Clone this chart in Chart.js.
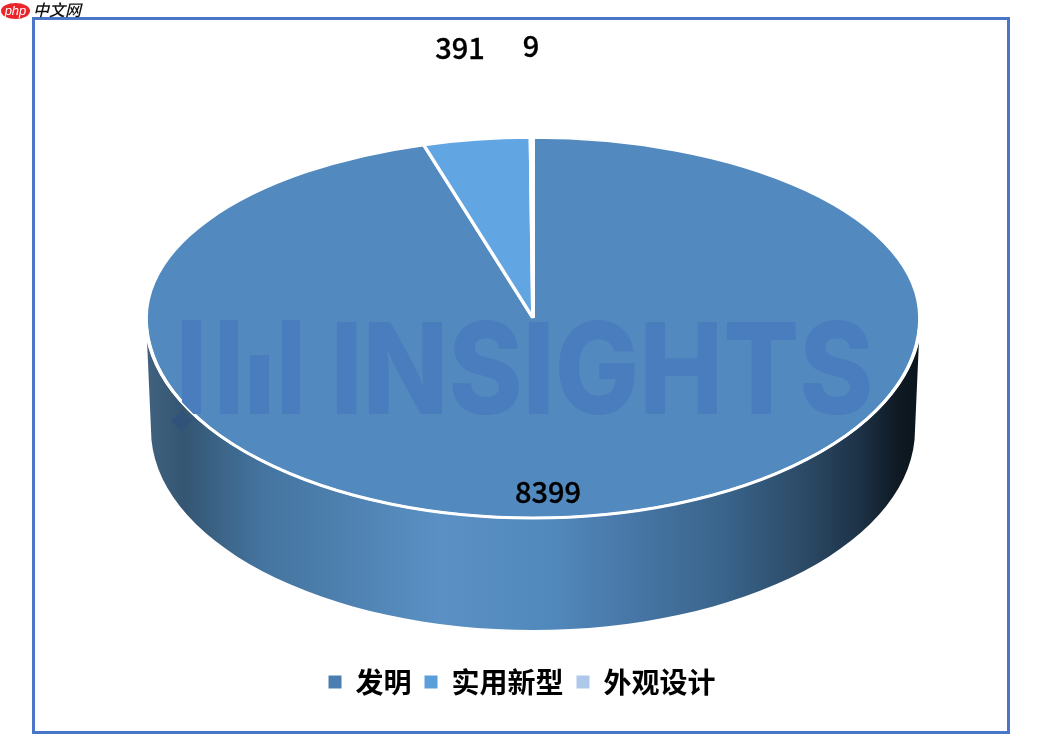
<!DOCTYPE html>
<html>
<head>
<meta charset="utf-8">
<style>
  html, body { margin: 0; padding: 0; background: #fff; }
  #wrap { position: relative; width: 1038px; height: 752px; overflow: hidden; }
  #frame { position: absolute; left: 32px; top: 17px; width: 972px; height: 711px; border: 3px solid #4a76c8; }
  #logo { position: absolute; left: 1px; top: 3px; width: 29px; height: 16px; border-radius: 50%; background: #e8262c;
          color: #fff; font: italic 13px/15px "Liberation Sans", sans-serif; text-align: center; }
  #logotext { position: absolute; left: 33px; top: 0; font: italic 500 16px/19px "Noto Sans CJK SC", sans-serif; color: #111; }
  canvas { position: absolute; left: 0; top: 0; }
</style>
</head>
<body>
<div id="wrap">
  <canvas id="myChart" width="1038" height="752"></canvas>
  <div id="frame"></div>
  <div id="logo">php</div>
  <div id="logotext">中文网</div>
</div>
<script src="https://cdn.jsdelivr.net/npm/chart.js@4"></script>
<script>
const categories = ['发明', '实用新型', '外观设计'];
const patents = [8399, 391, 9];
const sliceColors = ['#5289bf', '#62a5e3', '#a9c5e7'];
const legendColors = ['#4a7eb0', '#5a9fd9', '#adc8e8'];

// the tilted top: apex sits above the middle, so back half is shorter than front half
const ell = { x: 533, y: 318, rx: 387, back: 180, front: 200, depth: 112 };
const labelSpots = [[548, 492], [460, 48], [531, 46]];

function squash(ctx, arc, ry) {
  const r = arc.outerRadius;
  ctx.translate(ell.x, ell.y);
  ctx.scale(ell.rx / r, ry / r);
  ctx.translate(-arc.x, -arc.y);
}

function clipHalf(ctx, top) {
  ctx.beginPath();
  if (top) ctx.rect(0, 0, 1038, ell.y);
  else ctx.rect(0, ell.y, 1038, 752 - ell.y);
  ctx.clip();
}

function topOutline(ctx) {
  ctx.beginPath();
  ctx.ellipse(ell.x, ell.y, ell.rx, ell.front, 0, 0, Math.PI);
  ctx.ellipse(ell.x, ell.y, ell.rx, ell.back, 0, Math.PI, Math.PI * 2);
  ctx.closePath();
}

const pie3d = {
  id: 'pie3d',
  beforeDatasetsDraw(chart) {
    const ctx = chart.ctx;
    // side wall of the cylinder
    const g = ctx.createLinearGradient(ell.x - ell.rx, 0, ell.x + ell.rx, 0);
    g.addColorStop(0, '#41627f');
    g.addColorStop(0.05, '#345672');
    g.addColorStop(0.15, '#44749f');
    g.addColorStop(0.38, '#5a90c4');
    g.addColorStop(0.52, '#5289bd');
    g.addColorStop(0.62, '#4878a8');
    g.addColorStop(0.75, '#39638a');
    g.addColorStop(0.85, '#2c4a66');
    g.addColorStop(0.92, '#1d3348');
    g.addColorStop(0.97, '#0f1a24');
    g.addColorStop(1, '#0a141c');
    ctx.save();
    ctx.beginPath();
    ctx.ellipse(ell.x, ell.y, ell.rx, ell.front, 0, 0, Math.PI);
    ctx.ellipse(ell.x, ell.y + ell.depth, ell.rx - 5, ell.front, 0, Math.PI, 0, true);
    ctx.closePath();
    ctx.fillStyle = g;
    ctx.fill();
    // bit of the watermark that falls on the wall
    ctx.fillStyle = 'rgba(46, 78, 125, 0.6)';
    ctx.beginPath();
    ctx.moveTo(171, 421);
    ctx.lineTo(182, 411);
    ctx.lineTo(192, 421);
    ctx.lineTo(181, 431);
    ctx.closePath();
    ctx.fill();
    ctx.restore();
    // the library draws the back half through this transform
    ctx.save();
    clipHalf(ctx, true);
    squash(ctx, chart.getDatasetMeta(0).data[0], ell.back);
  },
  afterDatasetsDraw(chart) {
    const ctx = chart.ctx;
    const meta = chart.getDatasetMeta(0);
    ctx.restore();
    // and the front half
    ctx.save();
    clipHalf(ctx, false);
    squash(ctx, meta.data[0], ell.front);
    meta.controller.draw();
    ctx.restore();
    // white rim along the front
    ctx.save();
    ctx.strokeStyle = '#fff';
    ctx.lineWidth = 3;
    ctx.beginPath();
    ctx.ellipse(ell.x, ell.y, ell.rx, ell.front, 0, 0, Math.PI);
    ctx.stroke();
    ctx.restore();
    // watermark
    ctx.save();
    topOutline(ctx);
    ctx.clip();
    ctx.fillStyle = '#4a7dbe';
    [[182, 320, 19, 94], [220, 320, 18, 94], [250, 355, 19, 59], [282, 320, 18, 94]].forEach(b => ctx.fillRect(b[0], b[1], b[2], b[3]));
    ctx.font = '800 100px Inter, sans-serif';
    ctx.textAlign = 'left';
    ctx.textBaseline = 'alphabetic';
    const m = ctx.measureText('INSIGHTS');
    ctx.translate(336, 414);
    ctx.scale(534 / (m.actualBoundingBoxRight + m.actualBoundingBoxLeft), 94 / m.actualBoundingBoxAscent);
    ctx.fillText('INSIGHTS', m.actualBoundingBoxLeft, 0);
    ctx.restore();
    // value labels
    ctx.save();
    ctx.font = '500 29px "Noto Sans CJK SC", sans-serif';
    ctx.fillStyle = '#000';
    ctx.strokeStyle = '#000';
    ctx.lineWidth = 0.35;
    ctx.textAlign = 'center';
    ctx.textBaseline = 'middle';
    patents.forEach((v, i) => {
      ctx.fillText(String(v), labelSpots[i][0], labelSpots[i][1]);
      ctx.strokeText(String(v), labelSpots[i][0], labelSpots[i][1]);
    });
    ctx.restore();
  }
};

const ctx = document.getElementById('myChart').getContext('2d');
const myChart = new Chart(ctx, {
  type: 'pie',
  data: {
    labels: categories,
    datasets: [{
      data: patents,
      backgroundColor: sliceColors,
      borderColor: '#ffffff',
      borderWidth: 3,
      borderAlign: 'center'
    }]
  },
  options: {
    responsive: false,
    animation: false,
    layout: { padding: { top: 30, bottom: 46, left: 6 } },
    plugins: {
      tooltip: { enabled: false },
      legend: {
        position: 'bottom',
        labels: {
          boxWidth: 13,
          boxHeight: 13,
          padding: 13,
          color: '#000',
          font: { family: '"Noto Sans CJK SC", sans-serif', size: 28, weight: 'bold' },
          generateLabels: () => categories.map((c, i) => ({
            text: c, fillStyle: legendColors[i], strokeStyle: legendColors[i], lineWidth: 0, index: i
          }))
        }
      }
    }
  },
  plugins: [pie3d]
});
</script>
</body>
</html>
